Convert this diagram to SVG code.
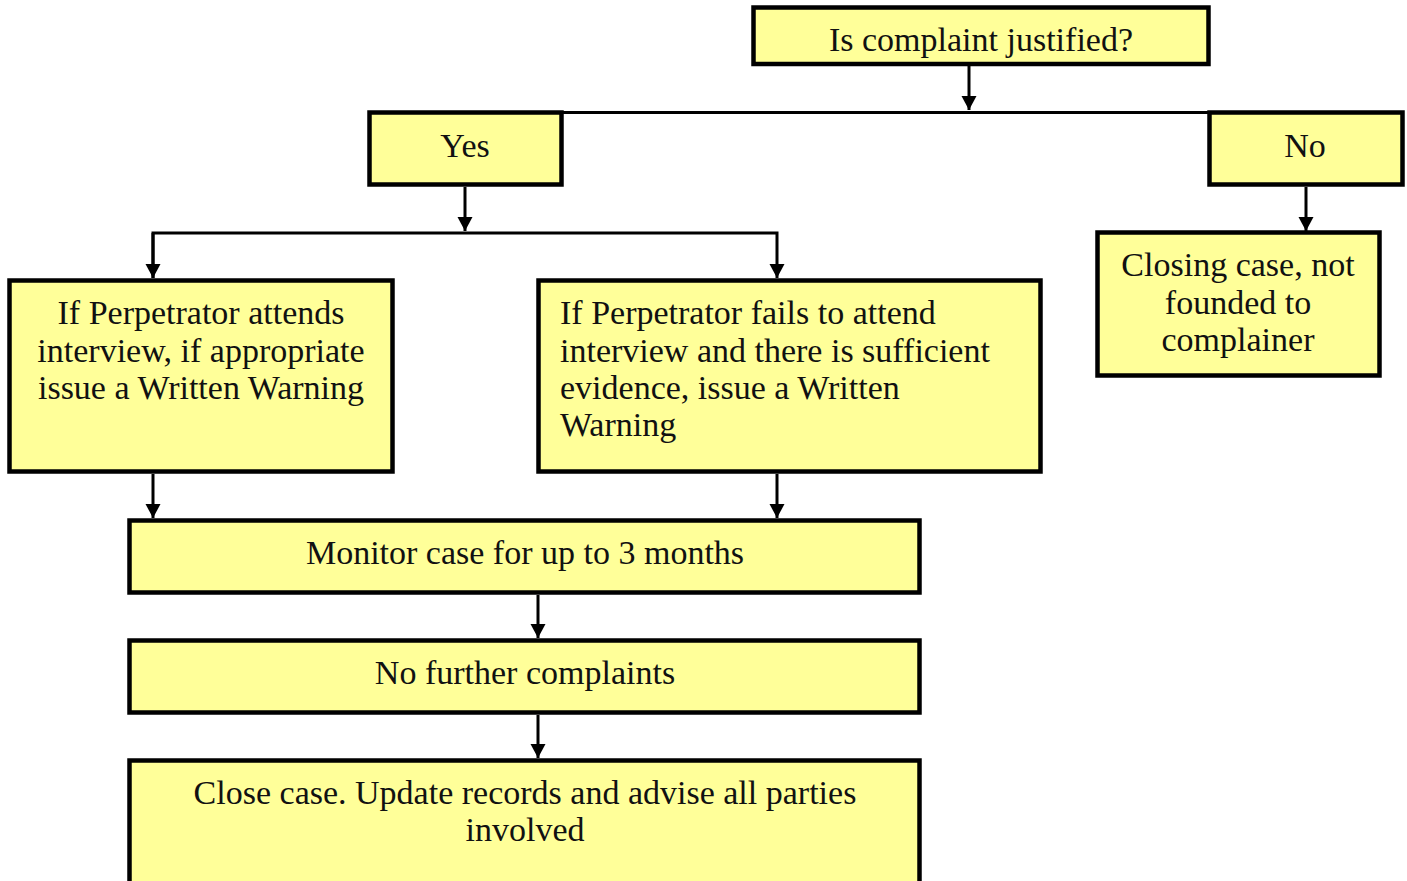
<svg xmlns="http://www.w3.org/2000/svg" width="1407" height="881" viewBox="0 0 1407 881">
<defs>
<marker id="arr" markerUnits="userSpaceOnUse" markerWidth="16" markerHeight="16" refX="14" refY="8" orient="auto">
<path d="M0,0.5 L14,8 L0,15.5 Z" fill="#000"/>
</marker>
<style>
.box{fill:#FFFF99;stroke:#000;stroke-width:4.5}
.t{font-family:"Liberation Serif",serif;font-size:34px;fill:#111;text-anchor:middle}
.l{text-anchor:start}
.c{fill:none;stroke:#000;stroke-width:3}
</style>
</defs>
<rect width="1407" height="881" fill="#fff"/>
<g id="connectors">
<line class="c" x1="969" y1="66" x2="969" y2="110" marker-end="url(#arr)"/>
<line class="c" x1="563" y1="112.5" x2="1209" y2="112.5"/>
<line class="c" x1="465" y1="187" x2="465" y2="231" marker-end="url(#arr)"/>
<polyline class="c" points="153,278 153,233 777,233 777,278" marker-end="url(#arr)"/>
<line class="c" x1="153" y1="233" x2="153" y2="278" marker-end="url(#arr)"/>
<line class="c" x1="1306" y1="187" x2="1306" y2="231" marker-end="url(#arr)"/>
<line class="c" x1="153" y1="474" x2="153" y2="518" marker-end="url(#arr)"/>
<line class="c" x1="777" y1="474" x2="777" y2="518" marker-end="url(#arr)"/>
<line class="c" x1="538" y1="595" x2="538" y2="638" marker-end="url(#arr)"/>
<line class="c" x1="538" y1="715" x2="538" y2="758" marker-end="url(#arr)"/>
</g>
<g id="n-question">
<rect class="box" x="753.5" y="7.5" width="455" height="56.5"/>
<text class="t" x="981" y="51">Is complaint justified?</text>
</g>
<g id="n-yes">
<rect class="box" x="369.5" y="112.5" width="192" height="72"/>
<text class="t" x="465" y="157">Yes</text>
</g>
<g id="n-no">
<rect class="box" x="1209.5" y="112.5" width="193" height="72"/>
<text class="t" x="1305" y="157">No</text>
</g>
<g id="n-attends">
<rect class="box" x="9.5" y="280.5" width="383" height="191"/>
<text class="t" x="201" y="324">If Perpetrator attends</text>
<text class="t" x="201" y="362">interview, if appropriate</text>
<text class="t" x="201" y="399">issue a Written Warning</text>
</g>
<g id="n-fails">
<rect class="box" x="538.5" y="280.5" width="502" height="191"/>
<text class="t l" x="560" y="324">If Perpetrator fails to attend</text>
<text class="t l" x="560" y="362">interview and there is sufficient</text>
<text class="t l" x="560" y="399">evidence, issue a Written</text>
<text class="t l" x="560" y="436">Warning</text>
</g>
<g id="n-closing">
<rect class="box" x="1097.5" y="232.5" width="282" height="143"/>
<text class="t" x="1238" y="276">Closing case, not</text>
<text class="t" x="1238" y="314">founded to</text>
<text class="t" x="1238" y="351">complainer</text>
</g>
<g id="n-monitor">
<rect class="box" x="129.5" y="520.5" width="790" height="72"/>
<text class="t" x="525" y="564">Monitor case for up to 3 months</text>
</g>
<g id="n-nofurther">
<rect class="box" x="129.5" y="640.5" width="790" height="72"/>
<text class="t" x="525" y="684">No further complaints</text>
</g>
<g id="n-close">
<rect class="box" x="129.5" y="760.5" width="790" height="140"/>
<text class="t" x="525" y="804">Close case. Update records and advise all parties</text>
<text class="t" x="525" y="841">involved</text>
</g>
</svg>
